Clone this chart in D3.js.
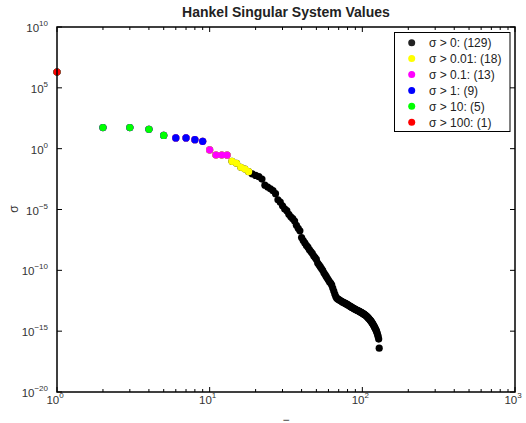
<!DOCTYPE html>
<html>
<head>
<meta charset="utf-8">
<script src="https://cdn.jsdelivr.net/npm/d3@7"></script>
<style>
  body { margin: 0; background: #fff; }
  svg { font-family: 'Liberation Sans', Arial, sans-serif; }
</style>
</head>
<body>
<svg id="chart" width="526" height="423"></svg>
<script>
// log10 of the Hankel singular values, index 1..129
const LOG_SIGMA = [
  6.3, 1.73, 1.73, 1.59, 1.09, 0.88, 0.88, 0.74, 0.6, -0.1,
  -0.52, -0.52, -0.53, -1.04, -1.2, -1.53, -1.67, -1.89, -2.08, -2.2,
  -2.3, -2.5, -3.0, -3.15, -3.3, -3.45, -3.7, -4.2, -4.4, -4.7,
  -4.95, -5.1, -5.4, -5.6, -5.75, -5.95, -6.3, -6.55, -6.75, -7.3,
  -7.55, -7.75, -7.95, -8.1, -8.3, -8.45, -8.6, -8.8, -8.95, -9.1,
  -9.4, -9.55, -9.7, -9.85, -10.0, -10.2, -10.35, -10.5, -10.65, -10.8,
  -10.95, -11.05, -11.2, -11.45, -11.7, -11.95, -12.15, -12.3, -12.35, -12.4,
  -12.45, -12.5, -12.55, -12.6, -12.63, -12.67, -12.7, -12.74, -12.78, -12.82,
  -12.86, -12.9, -12.95, -12.99, -13.03, -13.07, -13.1, -13.14, -13.17, -13.2,
  -13.24, -13.27, -13.3, -13.33, -13.36, -13.39, -13.42, -13.45, -13.48, -13.52,
  -13.55, -13.58, -13.62, -13.65, -13.69, -13.74, -13.79, -13.84, -13.89, -13.95,
  -14.0, -14.06, -14.12, -14.18, -14.25, -14.32, -14.4, -14.48, -14.56, -14.65,
  -14.73, -14.82, -14.92, -15.02, -15.15, -15.3, -15.45, -15.65, -16.4
]
const THRESHOLDS = [0, 0.01, 0.1, 1, 10, 100]
const SERIES_COLORS = ['#000000', '#ffff00', '#ff00ff', '#0000ff', '#00ff00', '#ff0000']
const X_TICKS = [0, 1, 2, 3]
const Y_TICKS = [10, 5, 0, -5, -10, -15, -20]

const DATA = LOG_SIGMA.map((v, i) => ({ n: i + 1, sigma: Math.pow(10, v) }))

const W = { left: 57, right: 515, top: 27, bottom: 392 }
const svg = d3.select('#chart')

const x = d3.scaleLog().domain([1, 1000]).range([W.left, W.right])
const y = d3.scaleLog().domain([1e-20, 1e10]).range([W.bottom, W.top])

// title
svg.append('text')
  .attr('x', (W.left + W.right) / 2)
  .attr('y', 17)
  .attr('text-anchor', 'middle')
  .attr('font-weight', 'bold')
  .attr('font-size', 14)
  .attr('fill', '#222')
  .text('Hankel Singular System Values')

// ticks (inside, mirrored on top/right)
const minor = []
for (let d = 0; d < 3; d++) for (let k = 2; k <= 9; k++) minor.push(k * Math.pow(10, d))
const g = svg.append('g').attr('stroke', '#000').attr('stroke-width', 1)
minor.forEach(v => {
  g.append('line').attr('x1', x(v)).attr('x2', x(v)).attr('y1', W.bottom).attr('y2', W.bottom - 3)
  g.append('line').attr('x1', x(v)).attr('x2', x(v)).attr('y1', W.top).attr('y2', W.top + 3)
})
X_TICKS.forEach(e => {
  const v = Math.pow(10, e)
  g.append('line').attr('x1', x(v)).attr('x2', x(v)).attr('y1', W.bottom).attr('y2', W.bottom - 5)
  g.append('line').attr('x1', x(v)).attr('x2', x(v)).attr('y1', W.top).attr('y2', W.top + 5)
})
Y_TICKS.forEach(e => {
  const v = Math.pow(10, e)
  g.append('line').attr('y1', y(v)).attr('y2', y(v)).attr('x1', W.left).attr('x2', W.left + 5)
  g.append('line').attr('y1', y(v)).attr('y2', y(v)).attr('x1', W.right).attr('x2', W.right - 5)
})

// tick labels
const lbl = svg.append('g').attr('fill', '#333').attr('font-size', 11.5)
X_TICKS.forEach(e => {
  const t = lbl.append('text')
    .attr('x', x(Math.pow(10, e)) - 2)
    .attr('y', 404)
    .attr('text-anchor', 'middle')
  t.append('tspan').text('10')
  t.append('tspan').attr('dy', -6).attr('font-size', 8).text(e)
})
Y_TICKS.forEach(e => {
  const t = lbl.append('text')
    .attr('x', W.left - 9)
    .attr('y', y(Math.pow(10, e)) + 5)
    .attr('text-anchor', 'end')
  t.append('tspan').text('10')
  t.append('tspan').attr('dy', -6).attr('font-size', 8).text(e === 0 || e > 0 ? e : '\u2212' + (-e))
})

// axis labels
svg.append('text')
  .attr('transform', 'translate(18,209) rotate(-90)')
  .attr('text-anchor', 'middle')
  .attr('font-size', 12)
  .attr('fill', '#333')
  .text('σ')
svg.append('text')
  .attr('x', 286).attr('y', 424)
  .attr('text-anchor', 'middle')
  .attr('font-size', 12)
  .attr('fill', '#333')
  .text('\u2212')

// points, one series per threshold, later series on top
THRESHOLDS.forEach((th, i) => {
  svg.append('g')
    .selectAll('circle')
    .data(DATA.filter(d => d.sigma > th))
    .join('circle')
    .attr('cx', d => x(d.n))
    .attr('cy', d => y(d.sigma))
    .attr('r', 3.6)
    .attr('fill', SERIES_COLORS[i])
})

// axes box
svg.append('rect')
  .attr('x', W.left).attr('y', W.top)
  .attr('width', W.right - W.left).attr('height', W.bottom - W.top)
  .attr('fill', 'none').attr('stroke', '#000').attr('stroke-width', 1.5)

// legend
const leg = svg.append('g')
leg.append('rect')
  .attr('x', 394.5).attr('y', 32.5).attr('width', 115.5).attr('height', 99)
  .attr('fill', '#fff').attr('stroke', '#000').attr('stroke-width', 1)
THRESHOLDS.forEach((th, i) => {
  const cy = 42.7 + i * 15.9
  leg.append('circle').attr('cx', 411.7).attr('cy', cy).attr('r', 3.5)
    .attr('fill', i === 0 ? '#222' : SERIES_COLORS[i])
  leg.append('text')
    .attr('x', 429).attr('y', cy + 4.3)
    .attr('font-size', 12).attr('fill', '#222')
    .text(`σ > ${th}: (${DATA.filter(d => d.sigma > th).length})`)
})
</script>
</body>
</html>
